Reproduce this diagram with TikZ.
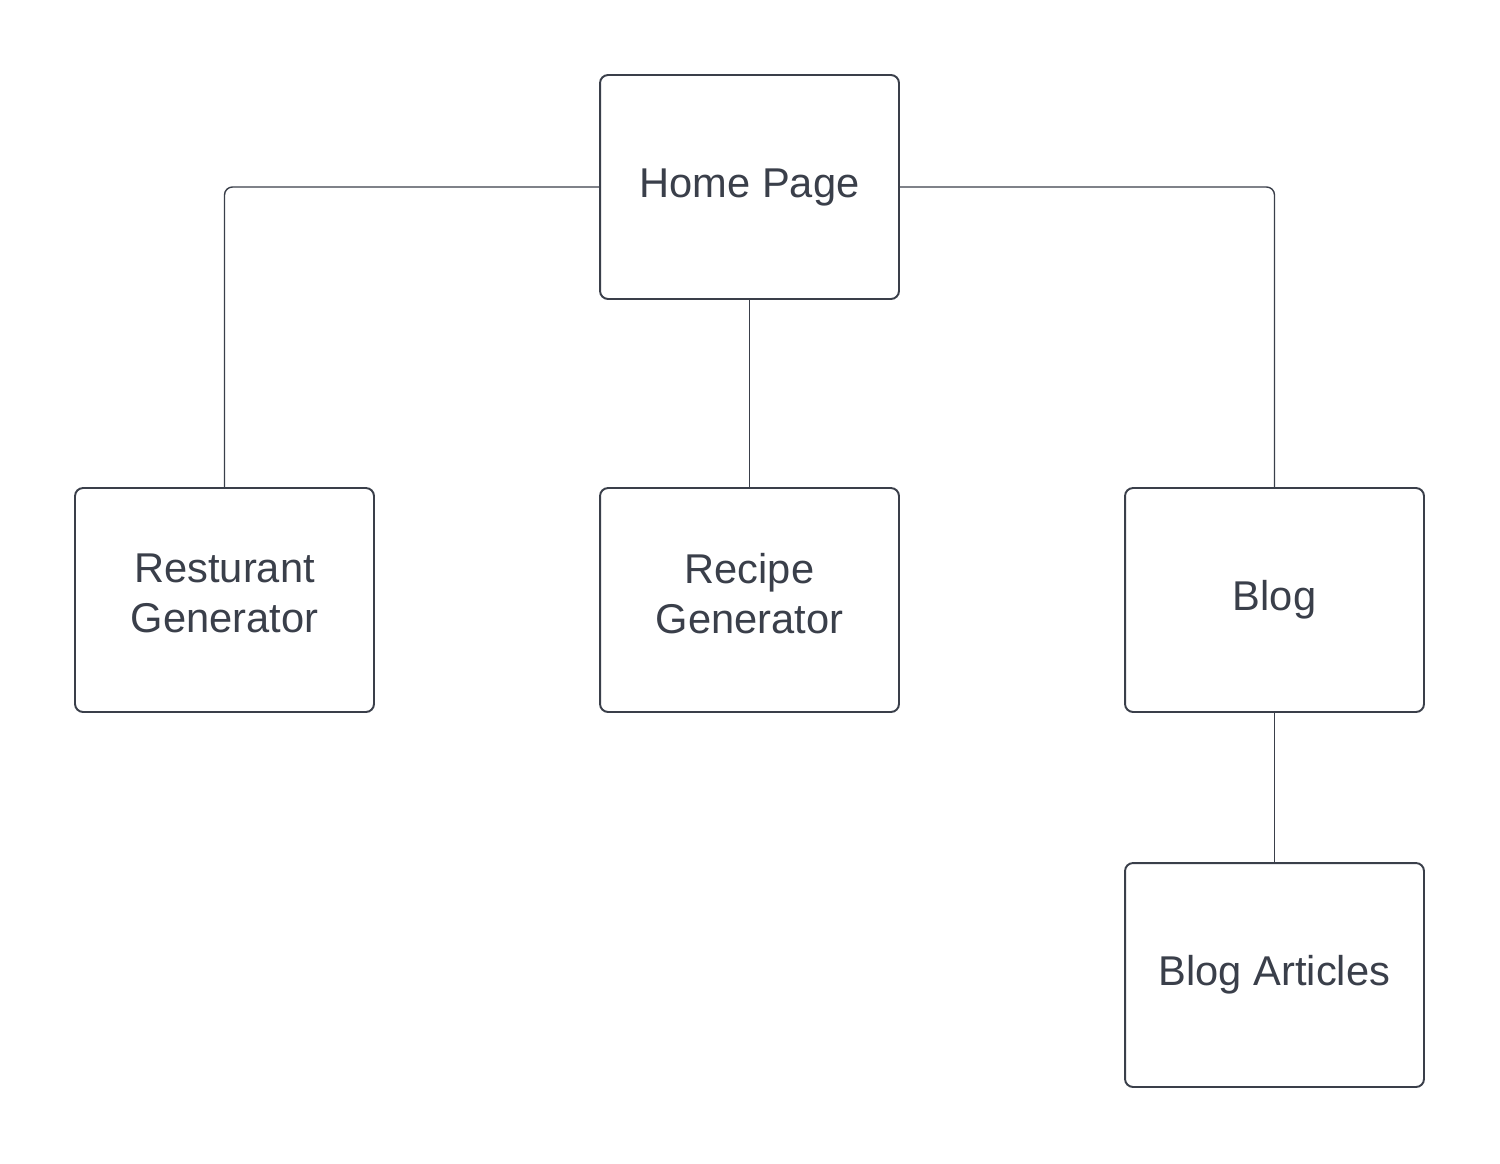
\documentclass[tikz,border=0pt]{standalone}
\usepackage{fontspec}
\setmainfont{Liberation Sans}
\definecolor{ink}{HTML}{3A3F4A}
\newcommand{\lowpad}{\rule[-0.28cm]{0pt}{0pt}}
\begin{document}
\begin{tikzpicture}[x=0.02cm,y=-0.02cm,
  box/.style={draw=ink,line width=1.1pt,rounded corners=0.16cm,fill=white,
    minimum width=5.98cm,minimum height=4.48cm,inner sep=0pt,align=center,
    text=ink,font=\fontsize{23.7}{28.5}\selectfont},
  link/.style={draw=ink,line width=0.8pt,rounded corners=0.16cm}]
\useasboundingbox (0,0) rectangle (1500,1163);
\node[box] (home) at (749.5,187) {Home Page};
\node[box] (rest) at (224.5,600) {Resturant\\Generator\lowpad};
\node[box] (recipe) at (749.5,600) {Recipe\\Generator\lowpad};
\node[box] (blog) at (1274.5,600) {Blog};
\node[box] (art) at (1274.5,975) {Blog Articles};
\draw[link] (home.west) -| (rest.north);
\draw[link] (home.east) -| (blog.north);
\draw[link] (home.south) -- (recipe.north);
\draw[link] (blog.south) -- (art.north);
\end{tikzpicture}
\end{document}
